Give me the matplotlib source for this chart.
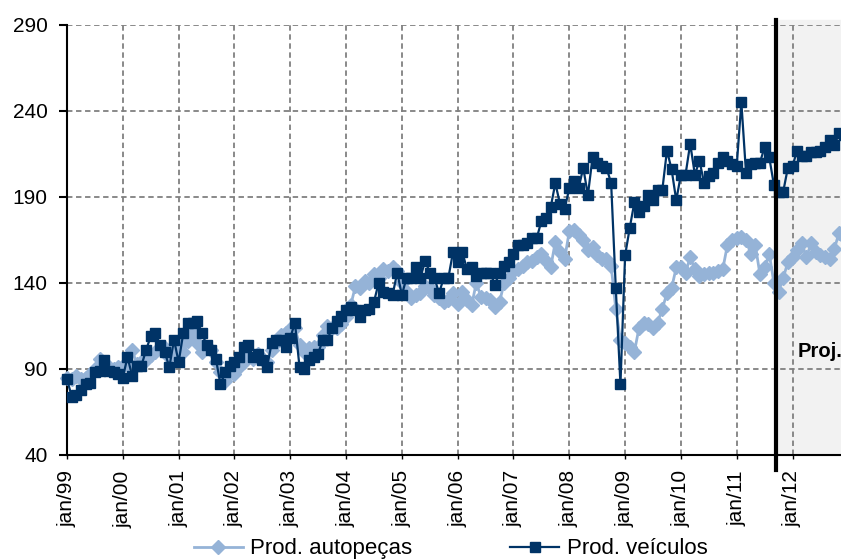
import numpy as np
import matplotlib.pyplot as plt

plt.rcParams['font.family'] = ['Liberation Sans', 'DejaVu Sans']

# monthly index, jan/99 = 0 ... dez/12 = 167
tick_labels = ['jan/99', 'jan/00', 'jan/01', 'jan/02', 'jan/03', 'jan/04', 'jan/05',
               'jan/06', 'jan/07', 'jan/08', 'jan/09', 'jan/10', 'jan/11', 'jan/12']

autopecas = [
    85, 84, 86, 84, 85, 87, 90, 96, 92, 91, 90, 91,            # 1999
    92, 93, 101, 93, 94, 95, 98, 100, 102, 102, 97, 100,       # 2000
    104, 100, 106, 111, 105, 100, 103, 101, 94, 88, 83, 88,    # 2001
    87, 91, 94, 97, 96, 99, 96, 94, 101, 105, 110, 111,        # 2002
    113, 114, 104, 100, 102, 103, 103, 110, 115, 114, 114, 116,  # 2003
    120, 127, 138, 137, 141, 140, 145, 143, 148, 147, 149, 147,  # 2004
    140, 135, 131, 133, 134, 138, 137, 133, 131, 129, 130, 134,  # 2005
    128, 135, 130, 127, 140, 132, 131, 130, 126, 129, 140, 143,  # 2006
    147, 148, 150, 152, 153, 155, 157, 153, 149, 164, 158, 154,  # 2007
    170, 171, 168, 165, 159, 161, 156, 154, 154, 150, 125, 107,  # 2008
    105, 103, 100, 114, 117, 116, 114, 117, 125, 134, 137, 149,  # 2009
    149, 146, 155, 148, 144, 145, 146, 146, 147, 148, 162, 165,  # 2010
    166, 167, 165, 157, 162, 145, 149, 157, 140, 135, 143, 152,  # 2011
    155, 159, 163, 155, 163, 158, 156, 155, 154, 160, 169, 167,  # 2012
]

veiculos = [
    84, 74, 75, 78, 81, 82, 88, 89, 95, 89, 88, 87,            # 1999
    85, 97, 86, 92, 92, 101, 109, 111, 104, 100, 91, 107,      # 2000
    94, 111, 117, 117, 118, 111, 104, 101, 96, 81, 88, 92,     # 2001
    94, 97, 103, 104, 97, 99, 95, 91, 105, 107, 107, 103,      # 2002
    108, 117, 91, 90, 95, 97, 99, 107, 107, 114, 118, 121,     # 2003
    124, 126, 124, 120, 124, 125, 129, 140, 135, 134, 133, 146,  # 2004
    133, 143, 143, 149, 143, 153, 146, 143, 134, 143, 143, 158,  # 2005
    152, 158, 148, 149, 144, 146, 146, 146, 139, 146, 150, 152,  # 2006
    157, 162, 162, 163, 166, 166, 176, 178, 184, 198, 186, 183,  # 2007
    195, 199, 195, 207, 191, 213, 210, 208, 207, 198, 137, 81,   # 2008
    156, 172, 187, 181, 185, 191, 188, 194, 194, 217, 206, 188,  # 2009
    203, 203, 221, 203, 211, 198, 202, 204, 210, 213, 211, 209,  # 2010
    208, 245, 204, 209, 210, 210, 219, 213, 197, 193, 193, 207,  # 2011
    208, 217, 214, 214, 216, 216, 217, 219, 223, 220, 227, 226,  # 2012
]

proj_start = 152.5

months = np.arange(len(veiculos))

fig = plt.figure(figsize=(8.41, 5.6), dpi=100)
ax = fig.add_axes([0.0797, 0.1875, 0.929, 0.768])

# faixa da projeção
ax.axvspan(proj_start, 175, ymin=0, ymax=1.012, color='#f2f2f2', zorder=0.2, clip_on=False)

ax.plot(months, autopecas, color='#95b3d7', lw=2, marker='D', ms=7.5,
        label='Prod. autopeças', clip_on=False, zorder=3)
ax.plot(months, veiculos, color='#003366', lw=1.6, marker='s', ms=7.5,
        label='Prod. veículos', clip_on=False, zorder=4)

ax.plot([proj_start, proj_start], [31, 293], color='black', lw=3, clip_on=False, zorder=6)
ax.text(157, 100, 'Proj.', fontsize=14.5, fontweight='bold', va='center', ha='left')

ax.set_xlim(0, 168)
ax.set_ylim(40, 290)
ax.set_yticks(np.arange(40, 291, 50))
ax.set_xticks(np.arange(0, 168, 12))
ax.set_xticklabels(tick_labels, rotation=90)
ax.tick_params(axis='y', labelsize=15, length=6, width=1.5, pad=8)
ax.tick_params(axis='x', labelsize=15, length=3, width=1, pad=8)

ax.set_axisbelow(True)
ax.grid(True, color='#808080', lw=1.3, linestyle=(0, (3, 2)))
for s in ['top', 'right']:
    ax.spines[s].set_visible(False)
ax.spines['left'].set_linewidth(1.5)
ax.spines['bottom'].set_linewidth(1.5)

fig.legend(loc='center', bbox_to_anchor=(0.536, 0.02), ncol=2, frameon=False,
           fontsize=16, handlelength=2.2, columnspacing=4.4, handletextpad=0.35)

fig.savefig('out.png', dpi=100)
